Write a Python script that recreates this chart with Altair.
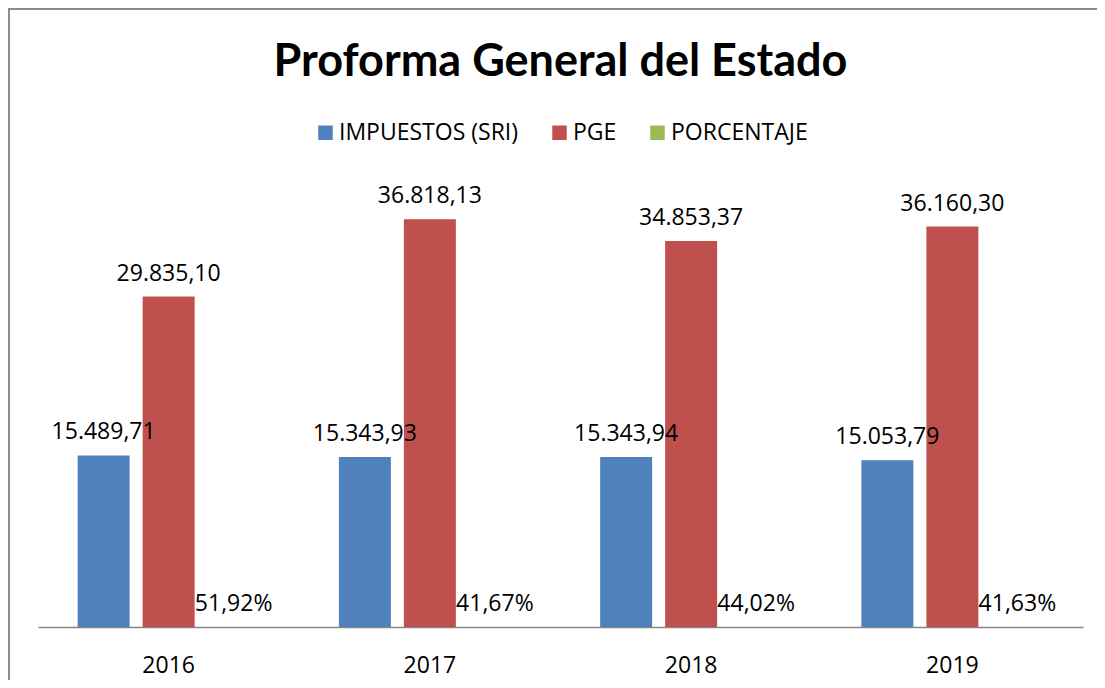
import altair as alt
import pandas as pd

years = ["2016", "2017", "2018", "2019"]
impuestos = [15489.71, 15343.93, 15343.94, 15053.79]
pge = [29835.10, 36818.13, 34853.37, 36160.30]
porcentaje = [0.5192, 0.4167, 0.4402, 0.4163]
series = ["IMPUESTOS (SRI)", "PGE", "PORCENTAJE"]
colors = ["#4F81BD", "#C0504D", "#9BBB59"]


def es_num(v):
    s = f"{v:,.2f}"
    return s.replace(",", "X").replace(".", ",").replace("X", ".")


rows = []
for i, yr in enumerate(years):
    rows.append(dict(year=yr, serie=series[0], value=impuestos[i], label=es_num(impuestos[i])))
    rows.append(dict(year=yr, serie=series[1], value=pge[i], label=es_num(pge[i])))
    rows.append(dict(year=yr, serie=series[2], value=porcentaje[i],
                     label=f"{porcentaje[i] * 100:.2f}%".replace(".", ",")))
df = pd.DataFrame(rows)

FONT = "Open Sans"

base = alt.Chart(df).encode(
    x=alt.X("year:N", sort=years,
            scale=alt.Scale(paddingInner=0, paddingOuter=0),
            axis=alt.Axis(title=None, labelAngle=0, ticks=False, tickSize=0,
                          labelPadding=27, labelFont=FONT, labelFontSize=23,
                          labelColor="black", domainColor="#868686", domainWidth=1.5,
                          grid=False)),
    xOffset=alt.XOffset("serie:N", sort=series,
                        scale=alt.Scale(paddingInner=0.2, paddingOuter=0.61)),
    y=alt.Y("value:Q", scale=alt.Scale(domain=[0, 40000], nice=False), axis=None),
)

bars = base.mark_bar().encode(
    color=alt.Color("serie:N", sort=series,
                    scale=alt.Scale(domain=series, range=colors),
                    legend=alt.Legend(title=None, orient="none", direction="horizontal",
                                      legendX=276, legendY=-63,
                                      symbolType="square", symbolSize=210,
                                      symbolStrokeWidth=0, labelLimit=400,
                                      labelFont=FONT, labelFontSize=23, labelColor="black",
                                      columnPadding=29, labelOffset=2))
)

labels = base.mark_text(baseline="alphabetic", dy=-16, font=FONT, fontSize=23,
                        color="black").encode(text="label:N")

border = alt.Chart(pd.DataFrame({"b": [0]})).mark_rect(
    fillOpacity=0, stroke="#8c8c8c", strokeWidth=2
).encode(x=alt.value(-29), x2=alt.value(1100), y=alt.value(-175), y2=alt.value(520))

chart = alt.layer(border, bars, labels).properties(
    width=1045, height=443,
    padding={"left": 30, "top": 176, "right": 14, "bottom": 53},
    autosize=alt.AutoSizeParams(type="none"),
    title=alt.TitleParams("Proforma General del Estado",
                          font="Lato", fontSize=45,
                          fontWeight="bold", color="black", anchor="middle",
                          frame="group", baseline="alphabetic", offset=0, dy=113),
).configure_view(stroke=None)

chart.save("out.html", embed_options={"renderer": "svg", "actions": False})
